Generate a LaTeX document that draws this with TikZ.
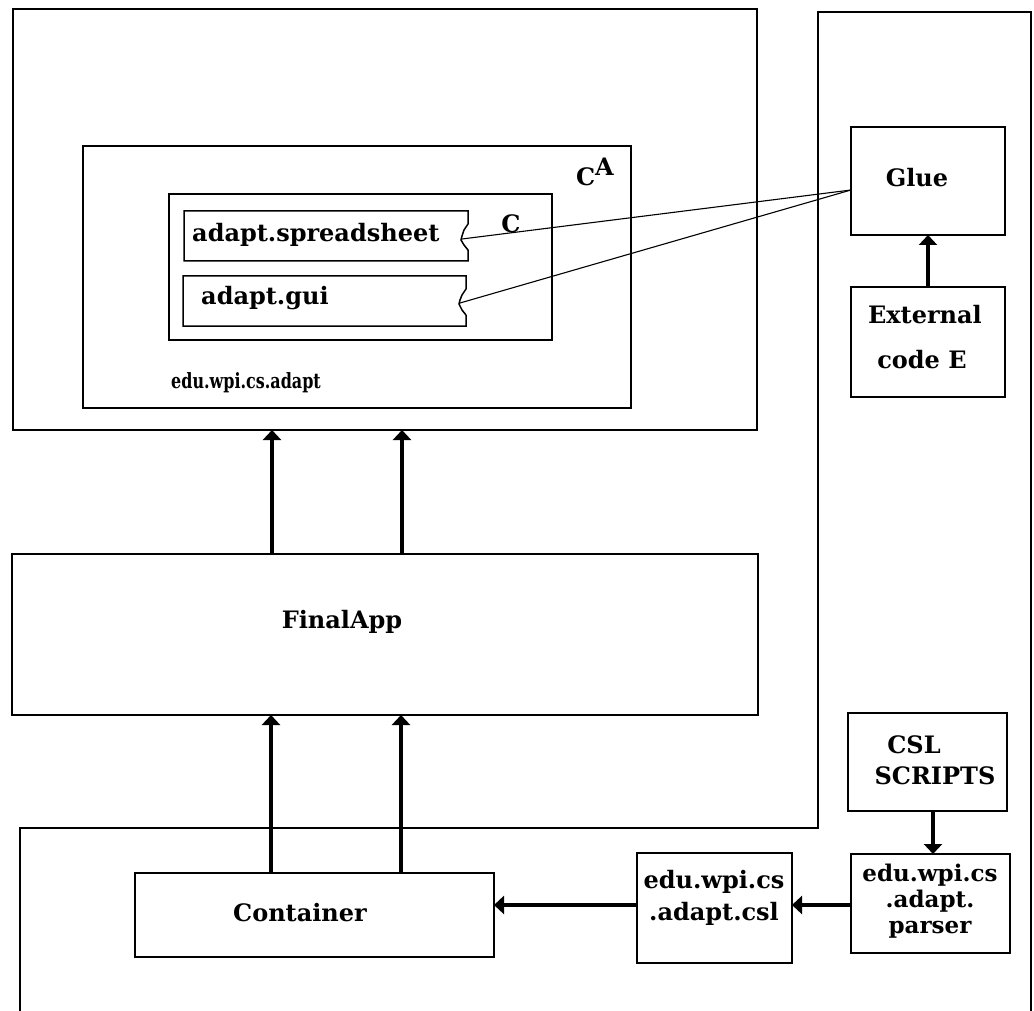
\documentclass[tikz,border=0pt]{standalone}
\usepackage{graphicx}
\usepackage{fontspec}
\setmainfont{DejaVu Serif}
\usetikzlibrary{arrows.meta}

\tikzset{
  box/.style={draw, line width=1.5pt, inner sep=0pt, outer sep=0pt, anchor=north west},
  edge/.style={draw, line width=1.5pt, line join=miter},
  arr/.style={line width=3.5pt, -{Triangle[width=18pt,length=10pt]}},
  thin link/.style={line width=1.1pt},
  lbl/.style={font=\bfseries\fontsize{24}{28}\selectfont, inner sep=0pt, align=center},
  small lbl/.style={font=\bfseries\fontsize{23}{27}\selectfont, inner sep=0pt, align=center},
  pkg lbl/.style={font=\bfseries\fontsize{21}{24}\selectfont, inner sep=0pt},
}

\begin{document}
\begin{tikzpicture}[x=1pt,y=-1pt]
\useasboundingbox[fill=white] (0,0) rectangle (1034,1011);

% outer frame: bottom region joined to the right-hand column
\draw[edge] (20,1011) -- (20,828) -- (818,828) -- (818,12) -- (1031,12) -- (1031,1011);

% top package box and its nested boxes
\node[box, minimum width=744pt, minimum height=421pt] (top) at (13,9) {};
\node[box, minimum width=548pt, minimum height=262pt] (adapt) at (83,146) {};
\node[box, minimum width=383pt, minimum height=146pt] (cbox) at (169,194) {};

% torn-edge boxes for the two sub-packages
\draw[edge] (468,250) -- (468,261) -- (184,261) -- (184,211) -- (468,211) -- (468,224)
  -- (464,230) -- (462,236) -- (461,240) -- (464,245) -- (468,250);
\coordinate (ssTip) at (462,239);
\draw[edge] (466,315) -- (466,326) -- (183,326) -- (183,276) -- (466,276) -- (466,289)
  -- (462,295) -- (460,300) -- (459,304) -- (462,310) -- (466,315);
\coordinate (guiTip) at (460,303);

\node[lbl, anchor=west] (ssText) at (192,235) {adapt.spreadsheet};
\node[lbl, anchor=west] (guiText) at (201,298) {adapt.gui};
\node[lbl] (cText) at (511,224) {C};
\node[lbl] (caText) at (595,172) {C\raisebox{0.45em}{A}};
\node[pkg lbl, anchor=west] (adaptText) at (171,383) {\scalebox{0.76}[1]{edu.wpi.cs.adapt}};

% right-hand column
\node[box, minimum width=154pt, minimum height=108pt] (glue) at (851,127) {};
\node[lbl] (glueText) at (917,178) {Glue};
\node[box, minimum width=154pt, minimum height=110pt] (ext) at (851,287) {};
\node[lbl] (extText1) at (925,315) {External};
\node[lbl] (extText2) at (922,360) {code E};
\coordinate (glueIn) at (851,190);

% middle application box
\node[box, minimum width=746pt, minimum height=161pt] (fa) at (12,554) {};
\node[lbl] (faText) at (342,622) {FinalApp};

% bottom region
\node[box, minimum width=159pt, minimum height=98pt] (scripts) at (848,713) {};
\node[lbl] (scriptsText1) at (914,745) {CSL};
\node[lbl] (scriptsText2) at (935,776) {SCRIPTS};
\node[box, minimum width=159pt, minimum height=99pt] (parser) at (851,854) {};
\node[small lbl] (parserText) at (930,901) {edu.wpi.cs\\[-1pt]{}.adapt.\\[-1pt]{}parser};
\node[box, minimum width=155pt, minimum height=110pt] (csl) at (637,853) {};
\node[lbl] (cslText) at (714,898) {edu.wpi.cs\\[4pt]{}.adapt.csl};
\node[box, minimum width=359pt, minimum height=84pt] (cont) at (135,873) {};
\node[lbl] (contText) at (300,913) {Container};

% helper coordinates for arrow positions
\coordinate (xa) at (272,0);
\coordinate (xb) at (402,0);
\coordinate (xc) at (271,0);
\coordinate (xd) at (401,0);
\coordinate (xs) at (933,0);
\coordinate (yh) at (0,905);

% links into the glue code
\draw[thin link] (ssTip) -- (glueIn);
\draw[thin link] (guiTip) -- (glueIn);

% dependency arrows
\draw[arr] (ext.north) -- (glue.south);
\draw[arr] (scripts.south -| xs) -- (parser.north -| xs);
\draw[arr] (parser.west |- yh) -- (csl.east |- yh);
\draw[arr] (csl.west |- yh) -- (cont.east |- yh);
\draw[arr] (cont.north -| xc) -- (fa.south -| xc);
\draw[arr] (cont.north -| xd) -- (fa.south -| xd);
\draw[arr] (fa.north -| xa) -- (top.south -| xa);
\draw[arr] (fa.north -| xb) -- (top.south -| xb);
\end{tikzpicture}
\end{document}
